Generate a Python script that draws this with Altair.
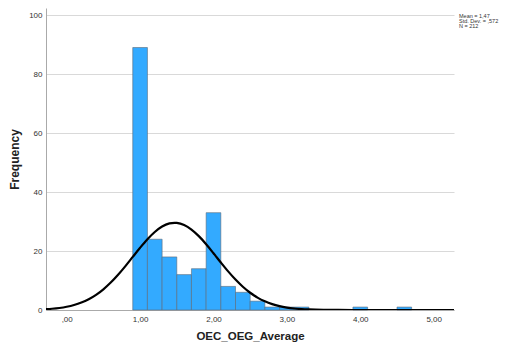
import altair as alt
import pandas as pd

# Histogram bins (centers, width 0.2) and frequencies
bin_centers = [1.0, 1.2, 1.4, 1.6, 1.8, 2.0, 2.2, 2.4, 2.6, 2.8, 3.0, 3.2, 4.0, 4.6]
frequencies = [89, 24, 18, 12, 14, 33, 8, 6, 3, 1, 1, 1, 1, 1]
bin_width = 0.2

# Normal curve (Mean = 1.47, SD = 0.572, N = 212) read at these x positions
curve_x = [-0.3, -0.2, -0.1, 0.0, 0.1, 0.2, 0.3, 0.4, 0.5, 0.6, 0.7, 0.8, 0.9,
           1.0, 1.1, 1.2, 1.3, 1.4, 1.47, 1.5, 1.6, 1.7, 1.8, 1.9, 2.0, 2.1,
           2.2, 2.3, 2.4, 2.5, 2.6, 2.7, 2.8, 2.9, 3.0, 3.1, 3.2, 3.3, 3.5,
           3.7, 3.9, 4.5, 5.3]
curve_y = [0.25, 0.42, 0.68, 1.09, 1.68, 2.51, 3.65, 5.14, 7.02, 9.30, 11.95,
           14.89, 18.00, 21.10, 23.99, 26.45, 28.29, 29.35, 29.57, 29.53, 28.82,
           27.27, 25.04, 22.29, 19.25, 16.12, 13.10, 10.32, 7.89, 5.85, 4.20,
           2.93, 1.98, 1.30, 0.83, 0.51, 0.31, 0.18, 0.05, 0.015, 0.0, 0.0, 0.0]

x_ticks = [0, 1, 2, 3, 4, 5]
x_tick_labels = [",00", "1,00", "2,00", "3,00", "4,00", "5,00"]
y_ticks = [0, 20, 40, 60, 80, 100]
stats_lines = ["Mean = 1,47", "Std. Dev. = ,572", "N = 212"]

x_domain = [-0.282, 5.277]
y_domain = [0, 102.4]

bars_df = pd.DataFrame({"center": bin_centers, "count": frequencies})
curve_df = pd.DataFrame({"x": curve_x, "y": curve_y})

label_expr = " : ".join(
    [f"datum.value == {v} ? '{l}'" for v, l in zip(x_ticks, x_tick_labels)]
) + " : ''"

FONT = "Liberation Sans"

xscale = alt.Scale(domain=x_domain, nice=False, zero=False)
yscale = alt.Scale(domain=y_domain, nice=False)

bars = alt.Chart(bars_df).transform_calculate(
    x0=f"datum.center - {bin_width / 2}",
    x1=f"datum.center + {bin_width / 2}",
).mark_bar(color="#33AAFF", stroke="#5a6a78", strokeWidth=0.6).encode(
    x=alt.X("x0:Q", scale=xscale,
            axis=alt.Axis(values=x_ticks, labelExpr=label_expr, grid=False,
                          ticks=False, labelPadding=5, labelFontSize=8,
                          labelColor="#333", domainColor="#aaa",
                          title="OEC_OEG_Average", titleFontSize=11.5,
                          titleFontWeight="bold", titlePadding=7,
                          titleColor="#222")),
    x2="x1:Q",
    y=alt.Y("count:Q", scale=yscale,
            axis=alt.Axis(values=y_ticks, grid=True, gridColor="#d9d9d9",
                          ticks=False, labelPadding=4, labelFontSize=8,
                          labelColor="#333", domainColor="#aaa",
                          title="Frequency", titleFontSize=12,
                          titleFontWeight="bold", titlePadding=7,
                          titleColor="#222")),
    y2=alt.datum(0),
)

curve = alt.Chart(curve_df).mark_line(
    color="black", strokeWidth=2.2, interpolate="monotone", clip=True
).encode(
    x=alt.X("x:Q", scale=xscale),
    y=alt.Y("y:Q", scale=yscale),
)

texts = []
for i, line in enumerate(stats_lines):
    texts.append(
        alt.Chart(pd.DataFrame({"t": [line]})).mark_text(
            align="left", baseline="middle", fontSize=5.5, font=FONT,
            color="#333"
        ).encode(text="t:N", x=alt.value(413), y=alt.value(8 + i * 4.8))
    )

chart = alt.layer(bars, curve, *texts).properties(
    width=408, height=302,
    autosize=alt.AutoSizeParams(type="none"),
    padding={"left": 38, "top": 0, "right": 52, "bottom": 32},
).configure(font=FONT).configure_view(stroke=None)

chart.save("out.html", embed_options={"renderer": "svg", "actions": False})
